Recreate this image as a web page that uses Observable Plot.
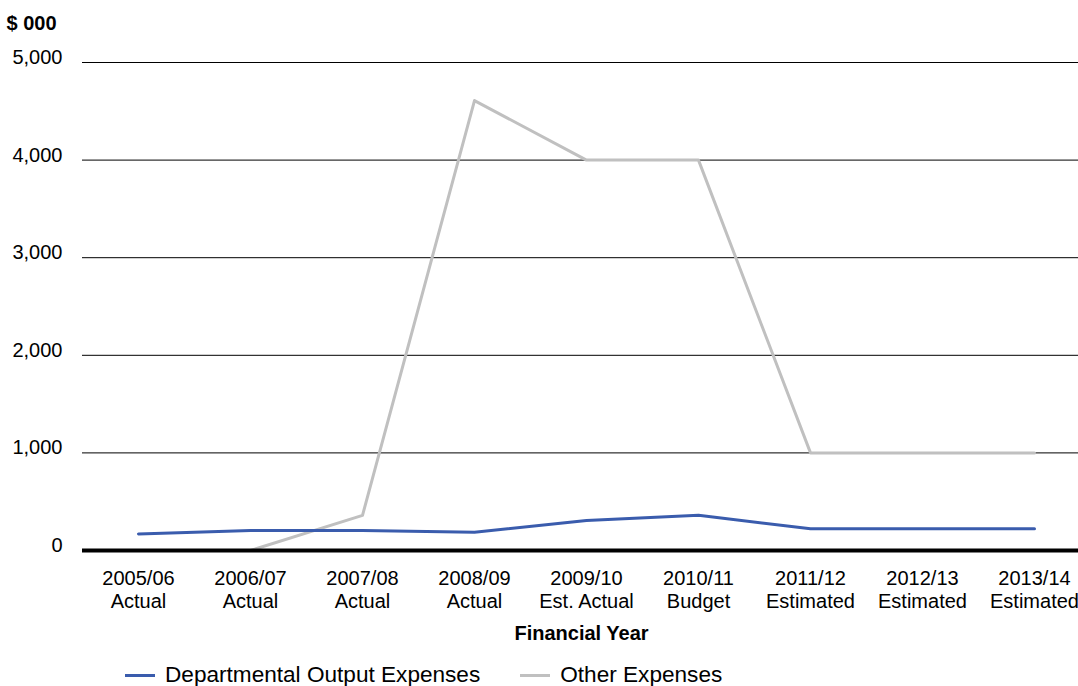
<!DOCTYPE html>
<html><head><meta charset="utf-8">
<script src="https://cdn.jsdelivr.net/npm/d3@7"></script>
<script src="https://cdn.jsdelivr.net/npm/@observablehq/plot@0.6"></script>
<style>
body{margin:0;background:#fff;font-family:"Liberation Sans",Arial,sans-serif;}
#chart svg{display:block;}
#legend{display:flex;align-items:center;height:36px;font-size:22.6px;color:#000;padding-left:125px;margin-top:7px;}
.item{display:flex;align-items:center;}
.sw{display:inline-block;width:30px;height:3px;margin-right:10px;}
</style></head><body>
<div id="chart"></div>
<div id="legend"></div>
<script>
const years = ["2005/06\nActual","2006/07\nActual","2007/08\nActual","2008/09\nActual","2009/10\nEst. Actual","2010/11\nBudget","2011/12\nEstimated","2012/13\nEstimated","2013/14\nEstimated"];
const departmental = [170,205,205,188,308,362,222,222,222];
const other = [0,0,360,4610,4000,4000,1000,1000,1000];
const yTicks = [0,1000,2000,3000,4000,5000];
const seriesNames = ["Departmental Output Expenses","Other Expenses"];
const seriesColors = ["#3A5CAD","#C0C0C0"];

const data = [];
years.forEach((y,i)=>{
  data.push({year:y, value:departmental[i], series:seriesNames[0]});
  data.push({year:y, value:other[i], series:seriesNames[1]});
});

const plot = Plot.plot({
  width:1078, height:650,
  marginLeft:82, marginRight:0, marginTop:62, marginBottom:100,
  style:{fontFamily:'"Liberation Sans",Arial,sans-serif', fontSize:"20px", color:"#000"},
  x:{type:"point", domain:years, range:[137,1034], padding:0, label:null},
  y:{domain:[0,5000], label:null},
  marks:[
    Plot.ruleY(yTicks.filter(d=>d>0), {stroke:"#000", strokeWidth:1}),
    Plot.axisY({ticks:yTicks, tickSize:0, tickPadding:20, dy:-5, tickFormat:d3.format(","), fontSize:20, label:null}),
    Plot.axisX({tickSize:0, tickPadding:19, fontSize:20, lineHeight:1.12, label:null}),
    Plot.lineY(data.filter(d=>d.series===seriesNames[1]), {x:"year", y:"value", stroke:seriesColors[1], strokeWidth:3}),
    Plot.ruleY([0], {stroke:"#000", strokeWidth:4}),
    Plot.lineY(data.filter(d=>d.series===seriesNames[0]), {x:"year", y:"value", stroke:seriesColors[0], strokeWidth:3}),
    Plot.text(["$ 000"], {frameAnchor:"top-left", dx:-76, dy:-47, fontWeight:"bold", fontSize:20, textAnchor:"start"}),
    Plot.text(["Financial Year"], {frameAnchor:"bottom", dx:1, dy:89, fontWeight:"bold", fontSize:20})
  ]
});
document.getElementById("chart").appendChild(plot);

const lg = document.getElementById("legend");
seriesNames.forEach((n,i)=>{
  const it = document.createElement("span");
  it.className="item";
  it.style.marginRight = i===0 ? "40px" : "0";
  it.innerHTML = `<span class="sw" style="background:${seriesColors[i]}"></span>${n}`;
  lg.appendChild(it);
});
</script>
</body></html>
